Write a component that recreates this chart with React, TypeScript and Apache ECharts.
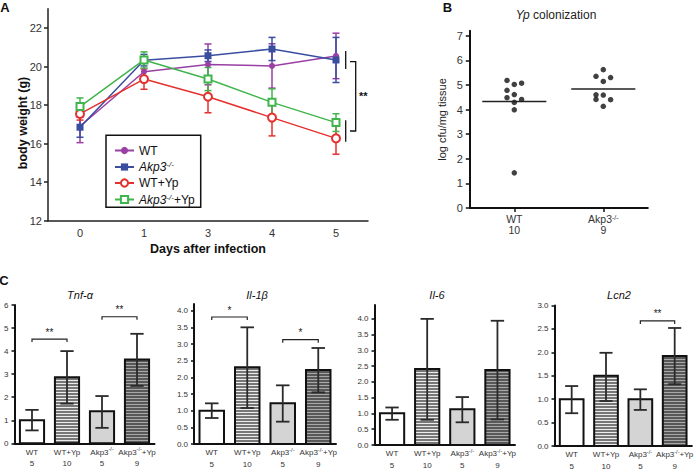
import React, { useEffect, useRef } from 'react';
import * as echarts from 'echarts';

const FONT = '"Liberation Sans", Arial, Helvetica, sans-serif';

// ---------- Panel A : body weight ----------
const dayLabels = ['0', '1', '3', '4', '5'];
const groupNamesA = ['WT', 'Akp3-/-', 'WT+Yp', 'Akp3-/-+Yp'];
const wtWeight = [16.9, 19.73, 20.11, 20.03, 20.55];
const wtWeightErr = [0.85, 0.45, 1.06, 1.15, 1.18];
const akpWeight = [16.85, 20.33, 20.56, 20.91, 20.34];
const akpWeightErr = [0.52, 0.3, 0.3, 0.6, 1.17];
const wtYpWeight = [17.54, 19.35, 18.43, 17.35, 16.27];
const wtYpWeightErr = [0.32, 0.53, 0.83, 0.95, 0.82];
const akpYpWeight = [17.92, 20.34, 19.35, 18.14, 17.09];
const akpYpWeightErr = [0.45, 0.42, 0.6, 0.7, 0.46];
const weightTicks = [12, 14, 16, 18, 20, 22];

// ---------- Panel B : colonization ----------
const colonGroups = ['WT', 'Akp3-/-'];
const colonN = ['10', '9'];
const wtCfu = [5.18, 5.02, 5.07, 4.78, 4.61, 4.48, 4.41, 4.29, 3.99, 1.43];
const wtCfuCol = [-1, 0, 1, -1, 0, -1, 1, 0, 0, 0];
const akpCfu = [5.62, 5.35, 5.3, 5.14, 4.6, 4.59, 4.41, 4.4, 4.13];
const akpCfuCol = [0, -1, 1, 0, -1, 0, -1, 1, 0];
const cfuTicks = [0, 1, 2, 3, 4, 5, 6, 7];

// ---------- Panel C : expression ----------
const groupLabels = ['WT', 'WT+Yp', 'Akp3-/-', 'Akp3-/-+Yp'];
const groupN = ['5', '10', '5', '9'];
const tnfMean = [1.0, 2.87, 1.39, 3.64];
const tnfLo = [0.56, 1.72, 0.67, 2.49];
const tnfHi = [1.45, 4.0, 2.05, 4.75];
const tnfTicks = [0, 1, 2, 3, 4, 5, 6];
const tnfSig = [[0, 1, 4.52], [2, 3, 5.49]];
const tnfSigText = ['**', '**'];
const il1bMean = [1.0, 2.3, 1.22, 2.22];
const il1bLo = [0.78, 1.08, 0.67, 1.55];
const il1bHi = [1.22, 3.5, 1.76, 2.88];
const il1bTicks = [0, 0.5, 1, 1.5, 2, 2.5, 3, 3.5, 4];
const il1bSig = [[0, 1, 3.81], [2, 3, 3.13]];
const il1bSigText = ['*', '*'];
const il6Mean = [1.01, 2.41, 1.13, 2.38];
const il6Lo = [0.8, 0.8, 0.72, 0.81];
const il6Hi = [1.19, 4.0, 1.52, 3.94];
const il6Ticks = [0, 0.5, 1, 1.5, 2, 2.5, 3, 3.5, 4];
const lcn2Mean = [1.0, 1.5, 1.0, 1.92];
const lcn2Lo = [0.7, 0.96, 0.77, 1.32];
const lcn2Hi = [1.28, 1.99, 1.21, 2.52];
const lcn2Ticks = [0, 0.5, 1, 1.5, 2, 2.5, 3];
const lcn2Sig = [[2, 3, 2.67]];
const lcn2SigText = ['**'];

// styles
const colorsA = ['#9a3fa3', '#3a4ea0', '#e5312e', '#3fb54b'];
const symbolsA = ['circle', 'rect', 'emptyCircle', 'emptyRect'];
const symbolSizesA = [6, 7, 8, 7];
const barFills = ['#ffffff', '#777777', '#d4d4d4', '#585858'];
const barStripes: (string | null)[] = [null, '#ececec', null, '#a8a8a8'];

const mean = (a: number[]) => a.reduce((s, v) => s + v, 0) / a.length;

function supRich(name: string, main: string, sup: string, rest: string) {
  const parts = name.split('-/-');
  if (parts.length === 1) return `{${rest}|${name}}`;
  return `{${main}|${parts[0]}}{${sup}|-/-}` + (parts[1] ? `{${rest}|${parts[1]}}` : '');
}

function errRender(color: string, cap: number, width: number) {
  return (params: any, api: any) => {
    const i = api.value(0);
    const lo = api.coord([i, api.value(1)]);
    const hi = api.coord([i, api.value(2)]);
    const st = { stroke: color, lineWidth: width };
    return {
      type: 'group',
      children: [
        { type: 'line', shape: { x1: lo[0], y1: lo[1], x2: hi[0], y2: hi[1] }, style: st },
        { type: 'line', shape: { x1: lo[0] - cap, y1: lo[1], x2: lo[0] + cap, y2: lo[1] }, style: st },
        { type: 'line', shape: { x1: hi[0] - cap, y1: hi[1], x2: hi[0] + cap, y2: hi[1] }, style: st },
      ],
    };
  };
}

function barRender(params: any, api: any) {
  const i = api.value(0);
  const base = api.coord([i, 0]);
  const top = api.coord([i, api.value(1)]);
  const lo = api.coord([i, api.value(2)]);
  const hi = api.coord([i, api.value(3)]);
  const band = api.size([1, 0])[0];
  const w = band * 0.69;
  const x0 = base[0] - w / 2;
  const h = base[1] - top[1];
  const children: any[] = [];
  children.push({ type: 'rect', shape: { x: x0, y: top[1], width: w, height: h }, style: { fill: barFills[i] } });
  const stripe = barStripes[i];
  if (stripe) {
    for (let y = top[1] + 2.5; y < base[1] - 1.5; y += 3) {
      const yy = Math.round(y) + 0.5;
      children.push({ type: 'line', shape: { x1: x0, y1: yy, x2: x0 + w, y2: yy }, style: { stroke: stripe, lineWidth: 1 } });
    }
  }
  children.push({ type: 'rect', shape: { x: x0, y: top[1], width: w, height: h }, style: { fill: 'none', stroke: '#111', lineWidth: 2 } });
  const cap = band * 0.19;
  const st = { stroke: '#2a2a2a', lineWidth: 1.8 };
  children.push({ type: 'line', shape: { x1: lo[0], y1: lo[1], x2: hi[0], y2: hi[1] }, style: st });
  children.push({ type: 'line', shape: { x1: lo[0] - cap, y1: lo[1], x2: lo[0] + cap, y2: lo[1] }, style: st });
  children.push({ type: 'line', shape: { x1: hi[0] - cap, y1: hi[1], x2: hi[0] + cap, y2: hi[1] }, style: st });
  return { type: 'group', children };
}

function sigRender(texts: string[]) {
  return (params: any, api: any) => {
    const a = api.coord([api.value(0), api.value(2)]);
    const b = api.coord([api.value(1), api.value(2)]);
    return {
      type: 'group',
      children: [
        {
          type: 'polyline',
          shape: { points: [[a[0], a[1] + 3], [a[0], a[1]], [b[0], b[1]], [b[0], b[1] + 3]] },
          style: { stroke: '#222', lineWidth: 1.2, fill: 'none' },
        },
        {
          type: 'text',
          x: (a[0] + b[0]) / 2,
          y: a[1] - 2,
          style: { text: texts[params.dataIndex], align: 'center', verticalAlign: 'bottom', fontSize: 10, fill: '#222', fontFamily: FONT },
        },
      ],
    };
  };
}

const cRich = {
  a: { fontSize: 8, lineHeight: 11.5, color: '#333', fontFamily: FONT },
  s: { fontSize: 5.5, lineHeight: 6, verticalAlign: 'top', color: '#333', fontFamily: FONT },
};

function buildOption() {
  const grid = [
    { left: 48, top: 8.7, width: 320, height: 212 },
    { left: 469.8, top: 30.7, width: 178, height: 177.4 },
    { left: 14.5, top: 305, width: 140, height: 138.3 },
    { left: 194, top: 304, width: 142, height: 140 },
    { left: 374.5, top: 305, width: 140.5, height: 140 },
    { left: 554.5, top: 305.5, width: 140, height: 140.5 },
  ];

  const xAxis: any[] = [];
  const yAxis: any[] = [];
  const series: any[] = [];

  // Panel A
  xAxis.push({
    gridIndex: 0,
    type: 'category',
    data: dayLabels,
    boundaryGap: true,
    axisLine: { lineStyle: { color: '#222', width: 1.5 } },
    axisTick: { alignWithLabel: true, length: 4, lineStyle: { color: '#222', width: 1.5 } },
    axisLabel: { fontSize: 11, color: '#333', margin: 7, fontFamily: FONT },
    name: 'Days after infection',
    nameLocation: 'middle',
    nameGap: 22,
    nameTextStyle: { fontWeight: 'bold', fontSize: 12.5, color: '#111', fontFamily: FONT },
  });
  yAxis.push({
    gridIndex: 0,
    type: 'value',
    min: 12,
    max: 23,
    axisLine: { show: true, onZero: false, lineStyle: { color: '#222', width: 1.5 } },
    axisTick: { show: true, length: 4, customValues: weightTicks, lineStyle: { color: '#222', width: 1.5 } },
    axisLabel: { customValues: weightTicks, fontSize: 11, color: '#333', margin: 6, fontFamily: FONT },
    splitLine: { show: false },
  });
  const aMeans = [wtWeight, akpWeight, wtYpWeight, akpYpWeight];
  const aErrs = [wtWeightErr, akpWeightErr, wtYpWeightErr, akpYpWeightErr];
  aMeans.forEach((m, k) => {
    series.push({
      type: 'custom',
      name: 'err' + k,
      xAxisIndex: 0,
      yAxisIndex: 0,
      renderItem: errRender(colorsA[k], 3.5, 1.5),
      data: m.map((v, i) => [i, v - aErrs[k][i], v + aErrs[k][i]]),
      encode: { x: 0, y: [1, 2] },
      z: 2,
    });
  });
  aMeans.forEach((m, k) => {
    series.push({
      type: 'line',
      name: groupNamesA[k],
      xAxisIndex: 0,
      yAxisIndex: 0,
      data: m,
      symbol: symbolsA[k],
      symbolSize: symbolSizesA[k],
      lineStyle: { color: colorsA[k], width: 1.5 },
      itemStyle: { color: colorsA[k], borderWidth: 1.5 },
      z: 3,
    });
  });

  // Panel B
  xAxis.push({
    gridIndex: 1,
    type: 'value',
    min: -0.5,
    max: 1.5,
    axisLine: { show: true, onZero: false, lineStyle: { color: '#111', width: 2 } },
    axisTick: { show: true, length: 4, customValues: [0, 1], lineStyle: { color: '#111', width: 1.5 } },
    axisLabel: {
      customValues: [0, 1],
      margin: 6,
      formatter: (v: number) => {
        const i = Math.round(v);
        return supRich(colonGroups[i], 'a', 's', 'a') + `\n{a|${colonN[i]}}`;
      },
      rich: {
        a: { fontSize: 10.5, lineHeight: 10.7, color: '#333', fontFamily: FONT },
        s: { fontSize: 7, lineHeight: 6, verticalAlign: 'top', color: '#333', fontFamily: FONT },
      },
    },
    splitLine: { show: false },
  });
  yAxis.push({
    gridIndex: 1,
    type: 'value',
    min: 0,
    max: 7.2,
    axisLine: { show: true, onZero: false, lineStyle: { color: '#111', width: 2 } },
    axisTick: { show: true, length: 4, customValues: cfuTicks, lineStyle: { color: '#111', width: 1.5 } },
    axisLabel: { customValues: cfuTicks, fontSize: 11, color: '#333', margin: 7, fontFamily: FONT },
    splitLine: { show: false },
  });
  const bSets = [wtCfu, akpCfu];
  const bCols = [wtCfuCol, akpCfuCol];
  bSets.forEach((vals, g) => {
    series.push({
      type: 'scatter',
      name: 'cfu' + g,
      xAxisIndex: 1,
      yAxisIndex: 1,
      symbol: 'circle',
      symbolSize: 5.5,
      itemStyle: { color: '#111' },
      data: vals.map((v, i) => [g + bCols[g][i] * 0.082, v]),
    });
    const m = mean(vals);
    series.push({
      type: 'line',
      name: 'mean' + g,
      xAxisIndex: 1,
      yAxisIndex: 1,
      symbol: 'none',
      lineStyle: { color: '#222', width: 1.5 },
      data: [[g - 0.36, m], [g + 0.36, m]],
    });
  });

  // Panel C
  const cPanels = [
    { mean: tnfMean, lo: tnfLo, hi: tnfHi, ticks: tnfTicks, max: 6, dec: 0, sig: tnfSig, sigText: tnfSigText },
    { mean: il1bMean, lo: il1bLo, hi: il1bHi, ticks: il1bTicks, max: 4.2, dec: 1, sig: il1bSig, sigText: il1bSigText },
    { mean: il6Mean, lo: il6Lo, hi: il6Hi, ticks: il6Ticks, max: 4.44, dec: 1, sig: [] as number[][], sigText: [] as string[] },
    { mean: lcn2Mean, lo: lcn2Lo, hi: lcn2Hi, ticks: lcn2Ticks, max: 3, dec: 1, sig: lcn2Sig, sigText: lcn2SigText },
  ];
  cPanels.forEach((p, k) => {
    const gi = k + 2;
    xAxis.push({
      gridIndex: gi,
      type: 'category',
      data: groupLabels,
      boundaryGap: true,
      axisLine: { onZero: false, lineStyle: { color: '#111', width: 2 } },
      axisTick: { alignWithLabel: true, length: 3, lineStyle: { color: '#111', width: 1.5 } },
      axisLabel: {
        interval: 0,
        margin: 3,
        formatter: (v: string, i: number) => supRich(groupLabels[i], 'a', 's', 'a') + `\n{a|${groupN[i]}}`,
        rich: cRich,
      },
    });
    yAxis.push({
      gridIndex: gi,
      type: 'value',
      min: 0,
      max: p.max,
      axisLine: { show: true, onZero: false, lineStyle: { color: '#111', width: 2 } },
      axisTick: { show: true, length: 3, customValues: p.ticks, lineStyle: { color: '#111', width: 1.5 } },
      axisLabel: {
        customValues: p.ticks,
        formatter: (v: number) => v.toFixed(p.dec),
        fontSize: 8,
        color: '#333',
        margin: 6,
        fontFamily: FONT,
      },
      splitLine: { show: false },
    });
    series.push({
      type: 'custom',
      name: 'bars' + k,
      xAxisIndex: xAxis.length - 1,
      yAxisIndex: yAxis.length - 1,
      renderItem: barRender,
      data: p.mean.map((v, i) => [i, v, p.lo[i], p.hi[i]]),
      encode: { x: 0, y: [1, 2, 3] },
      z: 2,
    });
    if (p.sig.length) {
      series.push({
        type: 'custom',
        name: 'sig' + k,
        xAxisIndex: xAxis.length - 1,
        yAxisIndex: yAxis.length - 1,
        renderItem: sigRender(p.sigText),
        data: p.sig,
        encode: { x: [0, 1], y: 2 },
        z: 3,
      });
    }
  });

  const T = (text: string, x: number, y: number, font: string) => ({
    type: 'text',
    x,
    y,
    style: { text, font, fill: '#111', align: 'center', verticalAlign: 'middle' },
  });

  const graphic: any[] = [
    T('A', 5, 7.5, `bold 13px ${FONT}`),
    T('B', 447.5, 7.5, `bold 13px ${FONT}`),
    T('C', 4, 280.5, `bold 13px ${FONT}`),
    {
      type: 'text',
      x: 23,
      y: 123,
      rotation: Math.PI / 2,
      style: { text: 'body weight (g)', font: `bold 12.5px ${FONT}`, fill: '#111', align: 'center', verticalAlign: 'middle' },
    },
    {
      type: 'text',
      x: 442,
      y: 119.5,
      rotation: Math.PI / 2,
      style: { text: 'log cfu/mg tissue', font: `11px ${FONT}`, fill: '#222', align: 'center', verticalAlign: 'middle' },
    },
    {
      type: 'text',
      x: 556,
      y: 15,
      style: {
        text: '{i|Yp} {n|colonization}',
        align: 'center',
        verticalAlign: 'middle',
        rich: {
          i: { fontStyle: 'italic', fontSize: 12, fontFamily: FONT, fill: '#222' },
          n: { fontSize: 12, fontFamily: FONT, fill: '#222' },
        },
      },
    },
    T('Tnf-α', 80, 295, `italic 11px ${FONT}`),
    T('Il-1β', 257, 295, `italic 11px ${FONT}`),
    T('Il-6', 437, 295, `italic 11px ${FONT}`),
    T('Lcn2', 619, 295, `italic 11px ${FONT}`),
    {
      type: 'rect',
      shape: { x: 106, y: 135.3, width: 94.7, height: 72 },
      style: { fill: 'none', stroke: '#111', lineWidth: 1.5 },
      z: 10,
    },
    { type: 'line', shape: { x1: 345.7, y1: 51, x2: 345.7, y2: 69 }, style: { stroke: '#111', lineWidth: 1.3 } },
    { type: 'line', shape: { x1: 345.7, y1: 120.3, x2: 345.7, y2: 141.7 }, style: { stroke: '#111', lineWidth: 1.3 } },
    {
      type: 'polyline',
      shape: { points: [[350, 61.7], [355.7, 61.7], [355.7, 131], [350, 131]] },
      style: { stroke: '#111', lineWidth: 1.3, fill: 'none' },
    },
    {
      type: 'text',
      x: 359,
      y: 96,
      style: { text: '**', font: `bold 11px ${FONT}`, fill: '#111', align: 'left', verticalAlign: 'middle' },
    },
  ];

  return {
    animation: false,
    backgroundColor: '#ffffff',
    textStyle: { fontFamily: FONT },
    grid,
    xAxis,
    yAxis,
    series,
    graphic,
    legend: {
      data: groupNamesA,
      orient: 'vertical',
      left: 109,
      top: 139.5,
      itemWidth: 19,
      itemHeight: 9,
      itemGap: 4,
      selectedMode: false,
      formatter: (name: string) => supRich(name, 'i', 'si', 'n'),
      textStyle: {
        rich: {
          n: { fontSize: 12, lineHeight: 13, color: '#111', fontFamily: FONT },
          i: { fontSize: 12, lineHeight: 13, fontStyle: 'italic', color: '#111', fontFamily: FONT },
          si: { fontSize: 8, lineHeight: 7, fontStyle: 'italic', verticalAlign: 'top', color: '#111', fontFamily: FONT },
        },
      },
    },
  };
}

export default function App() {
  const ref = useRef<HTMLDivElement>(null);
  useEffect(() => {
    if (!ref.current) return;
    const chart = echarts.init(ref.current, null, { renderer: 'svg' });
    chart.setOption(buildOption() as any);
    return () => chart.dispose();
  }, []);
  return <div ref={ref} style={{ position: 'absolute', left: 0, top: 0, width: 696, height: 475 }} />;
}
